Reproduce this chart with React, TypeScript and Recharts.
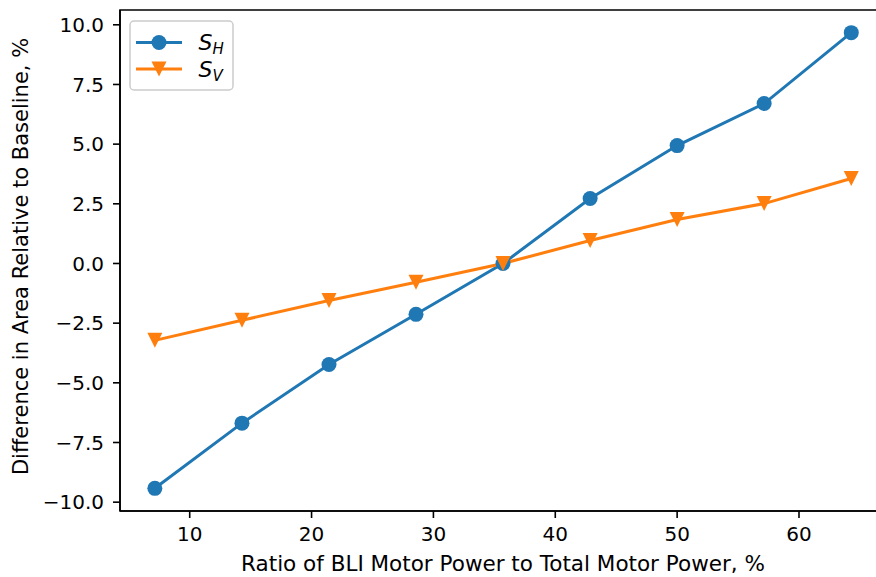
import { LineChart, Line, XAxis, YAxis, Legend, ReferenceArea } from 'recharts';

// BLI motor power ratio, %
const ratios = [7.14, 14.29, 21.43, 28.57, 35.71, 42.86, 50.0, 57.14, 64.29];
// difference in area relative to baseline, %
const sH = [-9.42, -6.69, -4.23, -2.13, 0.0, 2.72, 4.94, 6.7, 9.67];
const sV = [-3.22, -2.38, -1.55, -0.79, 0.0, 0.96, 1.84, 2.51, 3.56];

const xTicks = [10, 20, 30, 40, 50, 60];
const yTicks = [-10, -7.5, -5, -2.5, 0, 2.5, 5, 7.5, 10];

const X_DOMAIN: [number, number] = [4.28, 67.14];
const Y_DOMAIN: [number, number] = [-10.37, 10.62];

const BLUE = '#1f77b4';
const ORANGE = '#ff7f0e';
const FONT = '"DejaVu Sans", sans-serif';

const data = ratios.map((r, i) => ({ ratio: r, sH: sH[i], sV: sV[i] }));

const fmtY = (v: number) => v.toFixed(1).replace('-', '\u2212');

const CircleDot = (props: any) => {
  const { cx, cy } = props;
  if (cx == null || cy == null) return null;
  return <circle cx={cx} cy={cy} r={7.5} fill={BLUE} />;
};

const TriangleDot = (props: any) => {
  const { cx, cy } = props;
  if (cx == null || cy == null) return null;
  const s = 7.5;
  return <path d={`M${cx - s},${cy - s}L${cx + s},${cy - s}L${cx},${cy + s}Z`} fill={ORANGE} />;
};

const LegendBox = () => (
  <svg width={106} height={72} style={{ display: 'block' }}>
    <rect x={1} y={1} width={103} height={69} rx={4} fill="#fff" fillOpacity={0.8} stroke="#cccccc" strokeWidth={1.5} />
    <line x1={7} x2={53} y1={22.5} y2={22.5} stroke={BLUE} strokeWidth={3} />
    <circle cx={30} cy={22.5} r={7.5} fill={BLUE} />
    <line x1={7} x2={53} y1={49} y2={49} stroke={ORANGE} strokeWidth={3} />
    <path d="M22.5,41.5L37.5,41.5L30,56.5Z" fill={ORANGE} />
    <text x={69.5} y={30} fontFamily={FONT} fontSize={22} fontStyle="italic" fill="#000">
      S<tspan fontSize={15} dy={4}>H</tspan>
    </text>
    <text x={69.5} y={56.5} fontFamily={FONT} fontSize={22} fontStyle="italic" fill="#000">
      S<tspan fontSize={15} dy={4}>V</tspan>
    </text>
  </svg>
);

const YLabel = () => {
  const cy = 256.5;
  return (
    <text
      x={28}
      y={cy}
      transform={`rotate(-90, 28, ${cy})`}
      textAnchor="middle"
      fontFamily={FONT}
      fontSize={21}
      fill="#000"
    >
      Difference in Area Relative to Baseline, %
    </text>
  );
};

const XLabel = (props: any) => {
  const vb = props.viewBox;
  return (
    <text x={vb.x + vb.width / 2} y={571} textAnchor="middle" fontFamily={FONT} fontSize={21.5} fill="#000">
      Ratio of BLI Motor Power to Total Motor Power, %
    </text>
  );
};

export default function App() {
  return (
    <div style={{ width: 876, height: 577, overflow: 'hidden', background: '#fff' }}>
      <style>{'body{margin:0}'}</style>
      <LineChart width={888} height={577} data={data} margin={{ top: 10, right: 2, left: 0, bottom: 0 }}>
        <XAxis
          dataKey="ratio"
          type="number"
          domain={X_DOMAIN}
          ticks={xTicks}
          allowDataOverflow
          height={66}
          tickSize={7}
          tickMargin={9}
          stroke="#000"
          strokeWidth={1.6}
          tick={{ fill: '#000', fontSize: 20, fontFamily: FONT }}
          label={{ content: XLabel }}
        />
        <YAxis
          type="number"
          domain={Y_DOMAIN}
          ticks={yTicks}
          allowDataOverflow
          width={120}
          tickSize={7}
          tickMargin={9}
          tickFormatter={fmtY}
          stroke="#000"
          strokeWidth={1.6}
          tick={{ fill: '#000', fontSize: 20, fontFamily: FONT }}
          label={{ content: YLabel }}
        />
        <ReferenceArea
          x1={X_DOMAIN[0]}
          x2={X_DOMAIN[1]}
          y1={Y_DOMAIN[0]}
          y2={Y_DOMAIN[1]}
          fill="none"
          stroke="#000"
          strokeWidth={1.6}
          fillOpacity={0}
          strokeOpacity={1}
        />
        <Legend
          layout="horizontal"
          verticalAlign="middle"
          align="center"
          content={LegendBox}
          wrapperStyle={{ left: 129, top: 20, width: 106, height: 72 }}
        />
        <Line
          dataKey="sH"
          stroke={BLUE}
          strokeWidth={3}
          dot={<CircleDot />}
          activeDot={false}
          isAnimationActive={false}
        />
        <Line
          dataKey="sV"
          stroke={ORANGE}
          strokeWidth={3}
          dot={<TriangleDot />}
          activeDot={false}
          isAnimationActive={false}
        />
      </LineChart>
    </div>
  );
}
